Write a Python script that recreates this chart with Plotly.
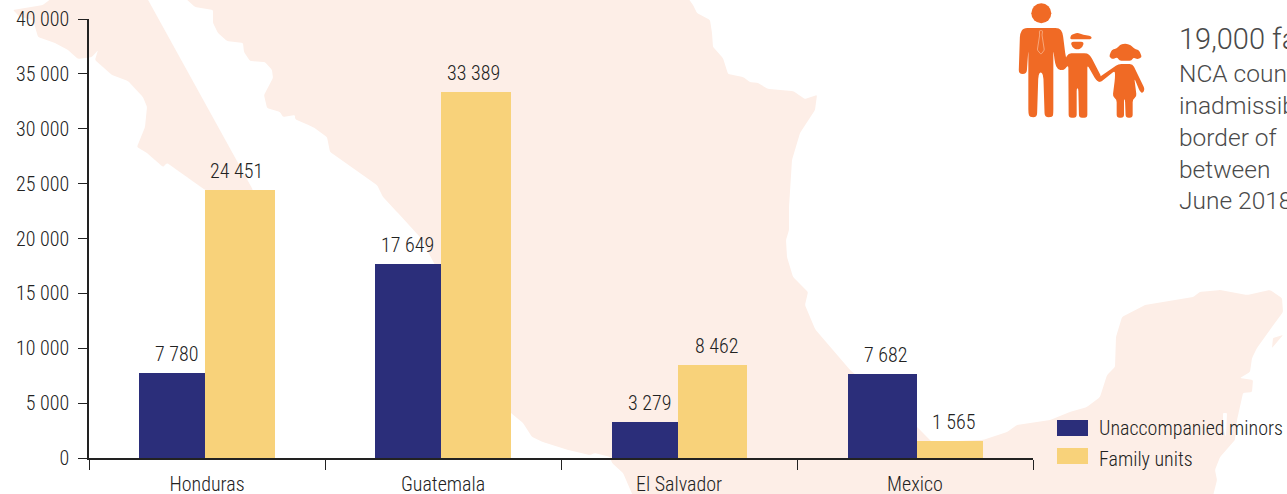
import math
import plotly.graph_objects as go

# ---- data ----
categories = ["Honduras", "Guatemala", "El Salvador", "Mexico"]
unaccompanied_minors = [7780, 17649, 3279, 7682]
family_units = [24451, 33389, 8462, 1565]
series_names = ["Unaccompanied minors", "Family units"]
y_ticks = [0, 5000, 10000, 15000, 20000, 25000, 30000, 35000, 40000]
side_text = ["19,000 families", "NCA countries", "inadmissible", "border of", "between", "June 2018"]

# ---- style ----
W, H = 1287, 494
L, R, T, B = 89, 1033, 19, 458
BLUE, YELLOW, PALE, ORANGE = "#2B2E7A", "#F8D27A", "#FDEEE7", "#F06A25"
INK, GREY = "#222222", "#4A4A4A"
NARROW = "Roboto Condensed, Roboto, sans-serif"
CAT_PX = (R - L) / 4


def px(x, y):
    return (x - L) / (R - L), (B - y) / (B - T)


def fmt(p):
    a, b = px(*p)
    return f"{a:.5f},{b:.5f}"


def rounded_path(points, r):
    n = len(points)
    parts = []
    for i in range(n):
        prev, cur, nxt = points[i - 1], points[i], points[(i + 1) % n]

        def toward(q):
            d = math.hypot(q[0] - cur[0], q[1] - cur[1]) or 1
            t = min(r, d / 2) / d
            return (cur[0] + (q[0] - cur[0]) * t, cur[1] + (q[1] - cur[1]) * t)

        a, b = toward(prev), toward(nxt)
        parts.append(("M" if i == 0 else "L") + fmt(a) + " Q" + fmt(cur) + " " + fmt(b))
    return " ".join(parts) + " Z"


def poly(points, fill, r=0, line=None, width=0):
    return dict(type="path", xref="paper", yref="paper", path=rounded_path(points, r), fillcolor=fill,
                line=dict(color=line or fill, width=width), layer="below")


def zoomed(points):
    return [(1000 + x / 3, y / 3) for x, y in points]


def circle(cx, cy, r, fill):
    x0, y1 = px(cx - r, cy - r)
    x1, y0 = px(cx + r, cy + r)
    return dict(type="circle", xref="paper", yref="paper", x0=x0, x1=x1, y0=y0, y1=y1,
                fillcolor=fill, line=dict(width=0), layer="below")


# backdrop map outline, in page pixels
mainland = [(185, -2), (195, 7), (213, 10), (213, 23), (218, 33), (227, 41), (243, 43), (244, 52), (250, 61), (265, 62),
            (272, 70), (273, 78), (264, 95), (267, 108), (280, 112), (283, 117), (295, 115), (295, 119), (308, 125),
            (313, 127), (327, 137), (330, 152), (377, 185), (383, 197), (397, 212), (420, 237), (470, 330), (490, 375),
            (511, 413), (523, 423), (532, 437), (543, 442), (568, 450), (590, 455), (595, 453), (610, 457), (612, 463),
            (623, 473), (633, 496), (1213, 496), (1217, 480), (1215, 470), (1220, 457), (1235, 440), (1237, 420),
            (1243, 393), (1252, 392), (1253, 380), (1240, 378), (1250, 372), (1252, 358), (1257, 348), (1272, 327),
            (1283, 312), (1282, 298), (1270, 290), (1247, 295), (1220, 290), (1200, 292), (1193, 297), (1145, 305),
            (1122, 317), (1116, 337), (1115, 367), (1107, 375), (1100, 397), (1087, 407), (1070, 412), (1050, 420),
            (1017, 425), (1007, 432), (983, 440), (932, 442), (917, 427), (850, 370), (815, 329), (805, 305), (808, 292),
            (793, 277), (787, 257), (786, 240), (789, 230), (789, 207), (792, 160), (800, 133), (815, 110), (817, 95),
            (805, 99), (793, 91), (768, 89), (758, 83), (750, 82), (743, 77), (728, 74), (723, 58), (713, 47), (712, 33),
            (710, 20), (697, 13), (693, 5), (688, -2)]
baja = [(52, -2), (43, 5), (13, 10), (20, 17), (33, 20), (38, 37), (55, 43), (68, 50), (78, 59), (92, 57), (98, 50),
        (95, 60), (112, 75), (128, 81), (143, 97), (147, 107), (145, 127), (137, 147), (147, 153), (163, 167),
        (167, 163), (187, 177), (205, 190), (253, 190), (147, -2)]
cozumel = [(1272, 348), (1283, 335), (1273, 338)]
shapes = [poly(mainland, PALE, 1.5), poly(baja, PALE, 1.5), poly(cozumel, PALE, 1),
          poly([(1223, 413), (1227, 413), (1226, 437), (1223, 427)], "white", 1),
          poly([(1232, 483), (1237, 473), (1233, 477)], "white", 0.5)]

# icon: man, boy, girl
man = [(70, 84), (178, 84), (188, 98), (197, 170), (205, 190), (190, 212), (172, 208), (165, 190), (160, 150),
       (160, 340), (158, 352), (134, 352), (130, 225), (122, 215), (115, 225), (111, 352), (89, 352), (85, 340),
       (85, 150), (80, 222), (56, 222), (60, 100)]
tie = [(118, 92), (128, 92), (126, 105), (133, 150), (123, 163), (112, 150), (119, 105)]
boy = [(205, 160), (262, 160), (272, 168), (305, 232), (300, 248), (288, 240), (262, 195), (262, 353), (237, 353),
       (235, 265), (230, 265), (230, 353), (206, 353), (205, 195), (190, 212), (180, 205)]
cap = [(210, 118), (213, 105), (232, 98), (250, 104), (272, 108), (276, 114), (270, 118)]
boy_face = [(212, 125), (252, 125), (248, 142), (232, 150), (216, 142)]
girl = [(355, 192), (398, 192), (435, 268), (428, 280), (420, 275), (403, 235), (410, 290), (398, 298), (398, 353),
        (377, 353), (375, 298), (372, 298), (372, 353), (350, 353), (350, 298), (338, 290),
        (345, 235), (345, 212), (300, 248), (288, 238)]
hair = [(327, 170), (335, 150), (350, 145), (360, 135), (375, 130), (392, 135), (402, 145), (418, 152), (426, 172),
        (412, 178), (400, 172), (395, 182), (358, 182), (352, 172), (338, 178)]
shapes += [circle(1041.3, 13.3, 10, ORANGE), poly(zoomed(man), ORANGE, 4), poly(zoomed(boy), ORANGE, 3),
           poly(zoomed(cap), ORANGE, 1.5), poly(zoomed(boy_face), ORANGE, 3), poly(zoomed(girl), ORANGE, 3),
           poly(zoomed(hair), ORANGE, 2)]
shapes.append(poly(zoomed(tie), "rgba(0,0,0,0)", 1, "#F9B58F", 0.8))

# legend swatches
for (y0, y1), colour in zip([(420, 436), (448, 464)], [BLUE, YELLOW]):
    shapes.append(poly([(1057, y0), (1088, y0), (1088, y1), (1057, y1)], colour))

# bar placement relative to each category centre, in pixels
minor_offset = [-68, -68, -67, -67]
minor_width = [66, 66, 66, 69]
family_offset = [-2, -2, -1, 2]
family_width = [69.5, 70, 69, 66]

fig = go.Figure()
fig.add_bar(x=categories, y=unaccompanied_minors, name=series_names[0], marker=dict(color=BLUE, line_width=0),
            offset=[v / CAT_PX for v in minor_offset], width=[v / CAT_PX for v in minor_width], showlegend=False)
fig.add_bar(x=categories, y=family_units, name=series_names[1], marker=dict(color=YELLOW, line_width=0),
            offset=[v / CAT_PX for v in family_offset], width=[v / CAT_PX for v in family_width], showlegend=False)

annotations = []
minor_shift = [176 - 207, 407 - 443, 649 - 679, 885 - 915]
family_shift = [236 - 207, 473 - 443, 716 - 679, 953 - 915]
for values, shifts in [(unaccompanied_minors, minor_shift), (family_units, family_shift)]:
    for c, v, s in zip(categories, values, shifts):
        annotations.append(dict(x=c, y=v, xref="x", yref="y", text=f"{v:,}".replace(",", " "), showarrow=False,
                                xshift=s, yshift=5, yanchor="bottom", xanchor="center",
                                font=dict(family=NARROW, size=20, color=INK, weight=300)))

# legend labels
for name, y in zip(series_names, [428, 459]):
    a, b = px(1097, y)
    annotations.append(dict(x=a, y=b, xref="paper", yref="paper", text=name, showarrow=False, xanchor="left",
                            yanchor="middle", font=dict(family=NARROW, size=20, color=INK, weight=300)))

# side note, running off the page edge as in the reference
for line, y, size in zip(side_text, [39, 73, 105, 137, 169, 200], [29, 24.5, 24.5, 24.5, 24.5, 24.5]):
    a, b = px(1177, y)
    annotations.append(dict(x=a, y=b, xref="paper", yref="paper", text=line, showarrow=False, xanchor="left",
                            yanchor="middle", align="left", font=dict(family="Roboto", size=size, color=GREY, weight=300)))

axis_style = dict(ticks="outside", tickwidth=1.3, tickcolor="#222222", showline=True, linecolor="#222222", linewidth=1.5,
                  showgrid=False, zeroline=False, automargin=False,
                  tickfont=dict(family=NARROW, size=20, color=INK, weight=300))
fig.update_layout(
    width=W, height=H, autosize=False,
    margin=dict(l=L, r=W - R, t=T, b=H - B, pad=0),
    paper_bgcolor="white", plot_bgcolor="rgba(0,0,0,0)",
    separators=". ", bargap=0, showlegend=False,
    shapes=shapes, annotations=annotations,
    xaxis=dict(type="category", range=[-0.5, 3.5], tickson="boundaries", ticklen=10, ticklabelstandoff=7, **axis_style),
    yaxis=dict(range=[0, 40000], tickvals=y_ticks, tickformat=",d", ticklen=9, ticklabelstandoff=5, **axis_style),
)

fig.write_html("out.html", config={"displayModeBar": False},
               post_script="document.body.style.margin='0';document.documentElement.style.overflow='hidden';")
